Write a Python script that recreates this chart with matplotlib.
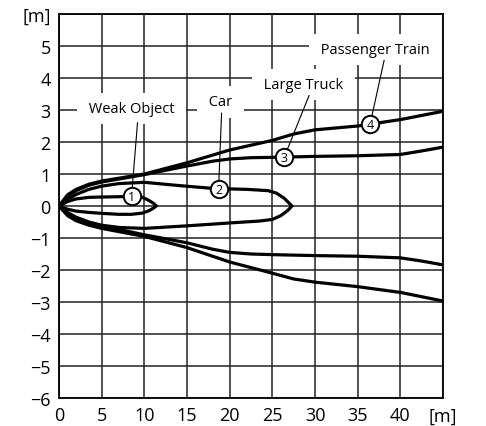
import matplotlib.pyplot as plt

plt.rcParams["font.family"] = ["Open Sans", "DejaVu Sans"]

# ── Detection zones (upper / lower boundary, metres) ─────────────────────────
weak_x_up = [0, 1, 2, 3.5, 5, 7, 8.5, 9.7, 10.5, 11.1, 11.4]
weak_y_up = [0, 0.14, 0.22, 0.27, 0.28, 0.29, 0.3, 0.28, 0.18, 0.08, 0]
weak_x_lo = [0, 1, 2, 3.5, 5, 7, 8.5, 9.8, 10.6, 11.1, 11.4]
weak_y_lo = [0, -0.1, -0.16, -0.2, -0.23, -0.26, -0.26, -0.22, -0.14, -0.06, 0]

car_x_up = [0, 1, 2, 3.5, 5, 7, 10, 14, 18, 22, 24.5, 25.5, 26.4, 27.3]
car_y_up = [0, 0.2, 0.36, 0.52, 0.62, 0.7, 0.74, 0.64, 0.55, 0.52, 0.48, 0.4, 0.24, 0]
car_x_lo = [0, 1, 2, 3.5, 5, 7, 10, 15, 20, 23.5, 25, 26, 26.8, 27.3]
car_y_lo = [0, -0.2, -0.35, -0.5, -0.6, -0.67, -0.7, -0.62, -0.53, -0.47, -0.42, -0.3, -0.14, 0]

truck_x = [0, 1, 2, 3.5, 5, 10, 15, 18, 20, 22.5, 25, 30, 35, 40, 42.5, 45]
truck_y_up = [0, 0.3, 0.48, 0.65, 0.75, 0.98, 1.25, 1.4, 1.47, 1.51, 1.52, 1.55, 1.57, 1.61, 1.72, 1.84]
truck_y_lo = [0, -0.25, -0.4, -0.52, -0.62, -0.9, -1.15, -1.35, -1.45, -1.5, -1.52, -1.55, -1.57, -1.62, -1.72, -1.84]

train_x = [0, 1, 2, 3.5, 5, 10, 15, 20, 25, 27.5, 30, 35, 40, 45]
train_y_up = [0, 0.35, 0.52, 0.68, 0.78, 1.0, 1.35, 1.75, 2.05, 2.25, 2.38, 2.5, 2.7, 2.96]
train_y_lo = [0, -0.3, -0.46, -0.6, -0.7, -0.95, -1.3, -1.75, -2.1, -2.28, -2.38, -2.52, -2.7, -2.97]

# labels, label anchor, leader start, marker position
names = ["Weak Object", "Car", "Large Truck", "Passenger Train"]
label_xy = [(8.5, 3.05), (18.9, 3.25), (28.6, 3.8), (37.1, 4.9)]
leader_from = [(9.2, 2.6), (19.05, 2.9), (29.3, 3.45), (38.1, 4.55)]
marker_xy = [(8.5, 0.3), (18.7, 0.53), (26.4, 1.53), (36.45, 2.55)]

xticks = list(range(0, 46, 5))
xlabels = [str(v) for v in xticks[:-1]] + ["[m]"]
yticks = list(range(-6, 7))
ylabels = [str(v).replace("-", "\u2212") for v in yticks[:-1]] + ["[m]"]

fig = plt.figure(figsize=(4.86, 4.27), dpi=100)
ax = fig.add_axes([59 / 486, 28 / 427, 384 / 486, 384 / 427])

lw = 2.3
kw = dict(color="black", lw=lw, solid_joinstyle="round", solid_capstyle="round", zorder=3)
ax.plot(weak_x_up + weak_x_lo[::-1], weak_y_up + weak_y_lo[::-1], **kw)
ax.plot(car_x_up + car_x_lo[::-1], car_y_up + car_y_lo[::-1], **kw)
ax.plot(truck_x, truck_y_up, **kw)
ax.plot(truck_x, truck_y_lo, **kw)
ax.plot(train_x, train_y_up, **kw)
ax.plot(train_x, train_y_lo, **kw)

for i, name in enumerate(names):
    # white box breaks the grid behind each label
    ax.text(*label_xy[i], f" {name} ", ha="center", va="center", fontsize=10.5, zorder=2,
            bbox=dict(boxstyle="square,pad=0.55", facecolor="white", edgecolor="none"))
    (x0, y0), (x1, y1) = leader_from[i], marker_xy[i]
    ax.plot([x0, x1], [y0, y1], color="black", lw=0.8, zorder=4)
    ax.plot(x1, y1, "o", ms=12.5, mfc="white", mec="black", mew=1.4, zorder=5)
    ax.text(x1, y1, str(i + 1), ha="center", va="center", fontsize=9, zorder=6)

ax.set_xlim(0, 45)
ax.set_ylim(-6, 6)
ax.set_xticks(xticks)
ax.set_xticklabels(xlabels)
ax.set_yticks(yticks)
ax.set_yticklabels(ylabels)
ax.tick_params(length=0, pad=6, labelsize=13)
ax.grid(True, color="#222222", lw=1.1)
ax.set_axisbelow(True)
for s in ax.spines.values():
    s.set_linewidth(1.3)

fig.savefig("out.png", dpi=100)
